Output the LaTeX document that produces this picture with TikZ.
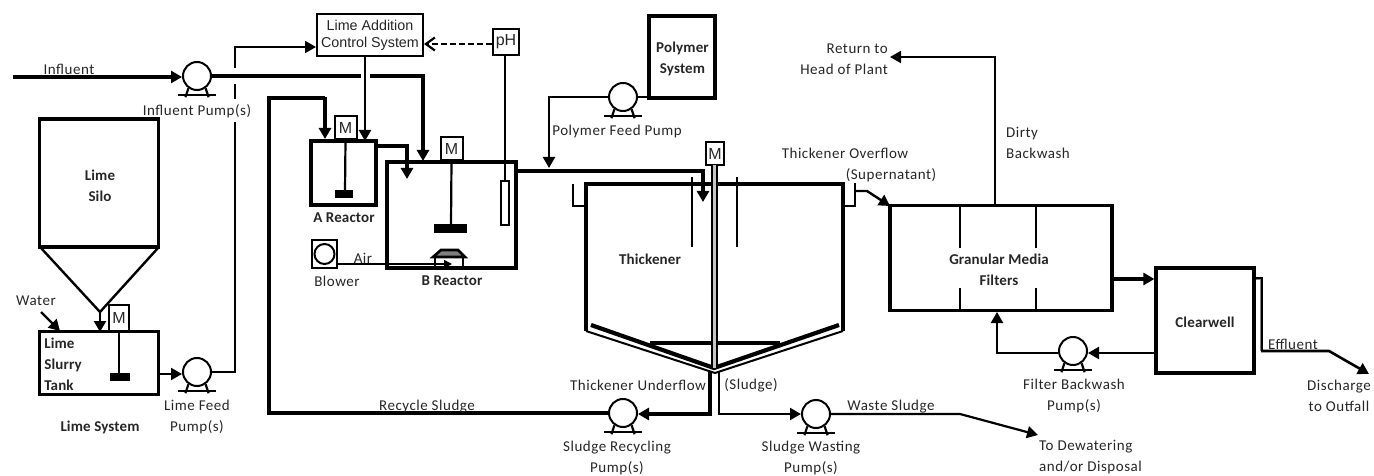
\documentclass[tikz,border=0pt]{standalone}
\usepackage{fontspec}
\setmainfont[LetterSpace=3.5,BoldFeatures={LetterSpace=1}]{Carlito}
\newfontfamily\ctrlfont{Liberation Sans}
\usetikzlibrary{arrows.meta}

\begin{document}
\begin{tikzpicture}[
    x=1pt, y=-1pt,
    every node/.style={inner sep=0pt, text=black!85},
    lbl/.style={font=\fontsize{15}{21}\selectfont, align=center},
    blbl/.style={font=\fontsize{15}{21}\selectfont\bfseries, align=center},
    ctrl/.style={font=\ctrlfont\fontsize{14.3}{17}\selectfont, align=center},
    vessel/.style={draw=black, fill=none, line width=3.2pt, rectangle},
    motor/.style={draw=black, line width=2pt, rectangle, ctrl, font=\ctrlfont\fontsize{16}{17}\selectfont},
    pumpbody/.style={draw=black, circle, line width=2pt, minimum size=28pt},
    pipe/.style={draw=black, line width=2.2pt},
    heavy/.style={draw=black, line width=3.1pt},
    flow/.style={-{Triangle[length=11pt,width=12pt]}},
    paddle/.style={fill=black, draw=none}
]
\useasboundingbox (0,0) rectangle (1374,476);
% vessels
\node[vessel, minimum width=119pt, minimum height=128pt] (silo) at (99,183) {};
\node[vessel, minimum width=119pt, minimum height=63pt] (slurry) at (99,363) {};
\node[vessel, minimum width=65pt, minimum height=64pt] (areactor) at (343.5,173) {};
\node[vessel, minimum width=129pt, minimum height=106pt] (breactor) at (451.5,215) {};
\node[vessel, minimum width=66pt, minimum height=82pt] (polymer) at (682,57) {};
\node[vessel, minimum width=222pt, minimum height=105pt] (filters) at (1001,258) {};
\node[vessel, minimum width=98pt, minimum height=105pt] (clearwell) at (1205,320.5) {};
\node[draw=black, line width=2pt, ctrl, minimum width=106pt, minimum height=42pt] (control) at (370,35)
    {Lime Addition\\Control System};
\node[draw=black, line width=1.8pt, ctrl, font=\ctrlfont\fontsize{16}{17}\selectfont, minimum width=26pt, minimum height=26pt] (ph) at (506,42) {pH};
\node[draw=black, line width=1.6pt, minimum width=8pt, minimum height=44pt] (probe) at (505,203) {};
\node[draw=black, line width=2pt, minimum width=25pt, minimum height=28pt] (blower) at (324.5,254) {};
\node[draw=black, circle, line width=2pt, minimum size=20pt] at (324.5,254) (blowerfan) {};
% motors
\node[motor, minimum width=20pt, minimum height=26pt] (mslurry) at (119,318) {M};
\node[motor, minimum width=22pt, minimum height=23pt] (mareactor) at (345.5,127.5) {M};
\node[motor, minimum width=22pt, minimum height=23pt] (mbreactor) at (451.5,148.5) {M};
\node[motor, minimum width=18pt, minimum height=23pt] (mthick) at (715,153.5) {M};
% pumps
\foreach \nm/\px/\py in {influentpump/197/76, limepump/197/372, polypump/623/97,
    recyclepump/623/413, wastepump/816/414, backwashpump/1073/351}{
    \node[pumpbody] (\nm) at (\px,\py) {};
    \draw[pipe] (\nm.235) -- ++(-3,9);
    \draw[pipe] (\nm.305) -- ++(3,9);
    \draw[pipe] ([shift={(-19,19)}]\nm.center) -- ++(38,0);
}
% mixers
\draw[pipe] (mslurry.south) -- (119,374);
\fill[paddle] (110,373) rectangle (130,381);
\draw[pipe] (mareactor.south) -- (345,192);
\fill[paddle] (335,190) rectangle (353,198);
\draw[pipe] (mbreactor.south) -- (451,226);
\fill[paddle] (434,224) rectangle (467,233);
% hopper
\coordinate (hopleft) at (41,248);
\coordinate (hopright) at (158,248);
\coordinate (hoptip) at (100,312);
\coordinate (slurryin) at (100,332);
\draw[pipe, line width=2.4pt] (hopleft) -- (hoptip) -- (hopright);
\draw[pipe, flow] (hoptip) -- (slurryin);
\coordinate (waterstart) at (41,312);
\coordinate (waterend) at (60,331);
\draw[pipe, line width=2.4pt, flow] (waterstart) -- (waterend);
% diffuser
\draw[pipe, line width=2.4pt] (435,268) -- (435,257) (463,268) -- (463,257);
\draw[draw=black, fill=gray, line width=2.6pt] (433,257) -- (441,250) -- (458,250) -- (465,257) -- cycle;
\coordinate (airend) at (452,264);
\draw[draw=black, line width=1.6pt, -{Triangle[length=8pt,width=8pt]}] (blower.east |- airend) -- (airend);
% thickener
\coordinate (thtl) at (586,184);
\coordinate (thtr) at (843,184);
\coordinate (thbl) at (586,331);
\coordinate (thbr) at (843,331);
\coordinate (thout) at (715,373);
\draw[draw=black, line width=2pt] (thbl) -- (thout) -- (thbr);
\draw[draw=black, line width=3.2pt] (thbl) -- (thtl) -- (thtr) -- (thbr);
\draw[draw=black, line width=4.2pt] (591,325) -- (714,368) -- (839,325);
\draw[draw=black, line width=3.2pt] (650,343) -- (780,343);
\draw[draw=gray!45, line width=4pt] (714.5,165) -- (714.5,368);
\draw[draw=black, line width=1.6pt] (712,165) -- (712,368) (717,165) -- (717,368);
\draw[pipe] (692,177) -- (692,247) (737,177) -- (737,247);
\draw[pipe] (573,184) -- (573,206) -- (thbl |- 0,206);
\draw[pipe] (thbr |- 0,206) -- (855,206) -- (855,183);
\coordinate (overin) at (890,206);
\draw[pipe, line width=2.4pt, flow] (855,191) -- (867,191) -- (overin);
% influent and lime lines
\coordinate (infstart) at (13,77);
\draw[heavy, flow] (infstart) -- (influentpump.west |- infstart);
\coordinate (mainbend) at (423,76);
\coordinate (mainend) at (423,161);
\draw[heavy] (influentpump.east) -- (361,76);
\draw[heavy, flow] (370,76) -- (mainbend) -- (mainend);
\draw[pipe, flow] (slurry.east |- 0,374) -- (limepump.west |- 0,374);
\coordinate (limeup) at (235,372);
\draw[pipe] (limepump.east) -- (limeup) -- (235,344) -- (235,122);
\draw[pipe] (235,99) -- (235,84);
\draw[pipe, flow] (235,68) -- (235,47) -- (control.west |- 0,47);
\draw[pipe, flow] (control.south -| 365,0) -- (365,141);
\draw[pipe, dashed, dash pattern=on 6pt off 3pt, -{Straight Barb[length=9pt,width=13pt]}]
    (ph.west |- 0,44) -- (control.east |- 0,44);
\draw[pipe] (ph.south -| probe.north) -- (probe.north);
% reactors
\coordinate (recycleup) at (269,413);
\coordinate (recyclein) at (325,139);
\draw[heavy] (recyclepump.west |- recycleup) -- (recycleup) -- (269,98) -- (325,98);
\draw[heavy, flow] (325,97) -- (recyclein);
\draw[heavy, flow] (areactor.east |- 0,146) -- (407,146) -- (407,179);
\draw[heavy, flow] (breactor.east |- 0,171) -- (703,171) -- (703,202);
\draw[pipe] (polymer.west |- polypump) -- (polypump.east);
\draw[pipe, flow] (polypump.west) -- (549,97) -- (549,168);
% underflow
\draw[draw=black, line width=3.8pt] (710,372) -- (710,415);
\draw[draw=black, line width=2.4pt] (719,372) -- (719,415);
\draw[heavy, flow] (712,414) -- (recyclepump.east |- 0,414);
\draw[pipe, flow] (719,414) -- (wastepump.west);
\coordinate (wasteend) at (1038,435);
\draw[pipe, flow] (wastepump.east) -- (960,414) -- (wasteend);
% filters
\draw[pipe] (960,206) -- (960,248) (1036,206) -- (1036,248);
\draw[pipe] (960,288) -- (960,310) (1036,288) -- (1036,310);
\coordinate (returnend) at (890,57);
\draw[pipe, flow] (filters.north -| 995,0) -- (995,57) -- (returnend);
\draw[draw=black, line width=3.8pt, flow] (filters.east |- 0,279) -- (clearwell.west |- 0,279);
\draw[pipe, flow] (clearwell.west |- 0,353) -- (backwashpump.east |- 0,353);
\draw[pipe, flow] (backwashpump.west |- 0,353) -- (997,353) -- (997,312);
\coordinate (outend) at (1369,374);
\draw[draw=gray, line width=2.8pt] (clearwell.east |- 0,279) -- (1261,279) -- (1261,351);
\draw[pipe] (clearwell.east |- 0,278) -- (1262,278) -- (1262,351);
\draw[pipe, line width=2.6pt, flow] (1261,351) -- (1329,351) -- (outend);
% labels
\node[lbl] (linf) at (69,69) {Influent};
\node[lbl] (linfp) at (197,111) {Influent Pump(s)};
\node[blbl] (lsilo) at (100,185.5) {Lime\\Silo};
\node[blbl, align=left] (lslurry) at (63,364.5) {Lime\\Slurry\\Tank};
\node[lbl] (lwater) at (36,301) {Water};
\node[lbl] (llimep) at (197,417) {Lime Feed\\Pump(s)};
\node[blbl] (lsys) at (100,427) {Lime System};
\node[lbl] (lrec) at (427,407) {Recycle Sludge};
\node[blbl] (lar) at (344,218) {A Reactor};
\node[blbl] (lbr) at (452,281) {B Reactor};
\node[lbl] (lblow) at (337,281) {Blower};
\node[lbl] (lair) at (363,258) {Air};
\node[blbl] (lpoly) at (682.5,59) {Polymer\\System};
\node[lbl] (lpolyp) at (617,132) {Polymer Feed Pump};
\node[blbl] (lthick) at (650,259) {Thickener};
\node[lbl] (lover) at (845,153) {Thickener Overflow};
\node[lbl] (lsuper) at (891,175) {(Supernatant)};
\node[lbl] (lunder) at (638,385) {Thickener Underflow};
\node[lbl] (lsludge) at (751,385) {(Sludge)};
\node[lbl] (lrecp) at (617,457.5) {Sludge Recycling\\Pump(s)};
\node[lbl] (lwastep) at (811,457.5) {Sludge Wasting\\Pump(s)};
\node[lbl] (lwaste) at (891,407) {Waste Sludge};
\node[lbl, anchor=west, align=left] (ldew) at (1039,457.5) {To Dewatering\\and/or Disposal};
\node[lbl, anchor=east, align=right] (lret) at (888,59) {Return to\\Head of Plant};
\node[lbl, anchor=west, align=left] (ldirty) at (1006,142.5) {Dirty\\Backwash};
\node[blbl] (lfil) at (999,270) {Granular Media\\Filters};
\node[blbl] (lclear) at (1205,322) {Clearwell};
\node[lbl] (lback) at (1074,396) {Filter Backwash\\Pump(s)};
\node[lbl] (leff) at (1293,344) {Effluent};
\node[lbl] (ldis) at (1339,396) {Discharge\\to Outfall};
\end{tikzpicture}
\end{document}
